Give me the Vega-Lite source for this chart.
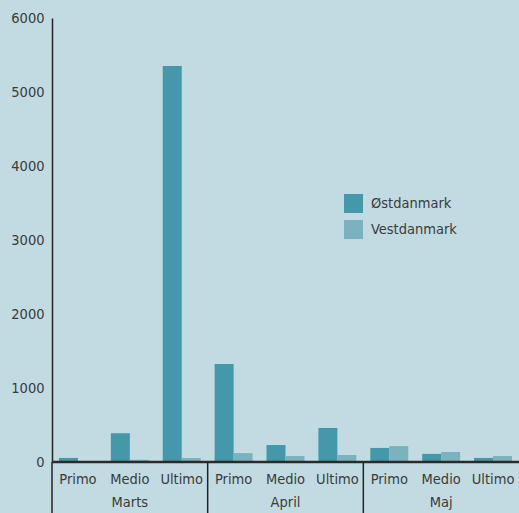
{
  "$schema": "https://vega.github.io/schema/vega-lite/v6.json",
  "width": 467,
  "height": 444,
  "autosize": {"type": "none"},
  "padding": {"left": 52, "top": 18, "right": 0, "bottom": 51},
  "background": "#c2dbe2",
  "config": {
    "view": {"stroke": null},
    "font": "DejaVu Sans Condensed"
  },
  "datasets": {
    "bars": [
      {"cat": "Marts|Primo", "region": "Østdanmark", "value": 55},
      {"cat": "Marts|Primo", "region": "Vestdanmark", "value": 0},
      {"cat": "Marts|Medio", "region": "Østdanmark", "value": 390},
      {"cat": "Marts|Medio", "region": "Vestdanmark", "value": 30},
      {"cat": "Marts|Ultimo", "region": "Østdanmark", "value": 5350},
      {"cat": "Marts|Ultimo", "region": "Vestdanmark", "value": 55},
      {"cat": "April|Primo", "region": "Østdanmark", "value": 1325},
      {"cat": "April|Primo", "region": "Vestdanmark", "value": 120},
      {"cat": "April|Medio", "region": "Østdanmark", "value": 230},
      {"cat": "April|Medio", "region": "Vestdanmark", "value": 80},
      {"cat": "April|Ultimo", "region": "Østdanmark", "value": 460},
      {"cat": "April|Ultimo", "region": "Vestdanmark", "value": 95},
      {"cat": "Maj|Primo", "region": "Østdanmark", "value": 190},
      {"cat": "Maj|Primo", "region": "Vestdanmark", "value": 215},
      {"cat": "Maj|Medio", "region": "Østdanmark", "value": 110},
      {"cat": "Maj|Medio", "region": "Vestdanmark", "value": 135},
      {"cat": "Maj|Ultimo", "region": "Østdanmark", "value": 55},
      {"cat": "Maj|Ultimo", "region": "Vestdanmark", "value": 80}
    ],
    "dividers": [
      {"cat": "Marts|Primo", "y": 0, "y2": -690},
      {"cat": "April|Primo", "y": 0, "y2": -690},
      {"cat": "Maj|Primo", "y": 0, "y2": -690}
    ]
  },
  "layer": [
    {
      "data": {"name": "bars"},
      "mark": {"type": "bar"},
      "encoding": {
        "x": {
          "field": "cat",
          "type": "nominal",
          "sort": null,
          "scale": {"paddingInner": 0, "paddingOuter": 0},
          "axis": {
            "title": null,
            "labelAngle": 0,
            "domain": false,
            "ticks": false,
            "labelExpr": "split(datum.label, '|')[1] == 'Medio' ? ['Medio', split(datum.label, '|')[0]] : split(datum.label, '|')[1]",
            "labelFontSize": 14.5,
            "labelColor": "#3a3a3a",
            "labelPadding": 10,
            "labelLineHeight": 23,
            "labelBaseline": "top",
            "labelOverlap": false
          }
        },
        "xOffset": {
          "field": "region",
          "type": "nominal",
          "scale": {"domain": ["Østdanmark", "Vestdanmark"], "paddingInner": 0, "paddingOuter": 0.366}
        },
        "y": {
          "field": "value",
          "type": "quantitative",
          "scale": {"domain": [0, 6000], "nice": false},
          "axis": {
            "title": null,
            "grid": false,
            "ticks": false,
            "format": "d",
            "values": [0, 1000, 2000, 3000, 4000, 5000, 6000],
            "labelFontSize": 14.5,
            "labelColor": "#3a3a3a",
            "labelPadding": 8,
            "domainColor": "#222222",
            "domainWidth": 1.5
          }
        },
        "color": {
          "field": "region",
          "type": "nominal",
          "scale": {"domain": ["Østdanmark", "Vestdanmark"], "range": ["#4498a9", "#7ab2c0"]},
          "legend": {
            "title": null,
            "orient": "none",
            "legendX": 292,
            "legendY": 176,
            "symbolType": "square",
            "symbolSize": 361,
            "symbolStrokeWidth": 0,
            "symbolOpacity": 1,
            "labelFontSize": 14.5,
            "labelColor": "#3a3a3a",
            "labelOffset": 8,
            "rowPadding": 7
          }
        }
      }
    },
    {
      "data": {"name": "dividers"},
      "mark": {"type": "rule", "color": "#222222", "strokeWidth": 1.5, "clip": false},
      "encoding": {
        "x": {"field": "cat", "type": "nominal", "sort": null, "bandPosition": 0},
        "y": {"field": "y", "type": "quantitative"},
        "y2": {"field": "y2"}
      }
    },
    {
      "data": {"values": [{"y": 0}]},
      "mark": {"type": "rule", "color": "#2a2a2a", "strokeWidth": 2.5},
      "encoding": {
        "y": {"field": "y", "type": "quantitative"}
      }
    }
  ]
}
